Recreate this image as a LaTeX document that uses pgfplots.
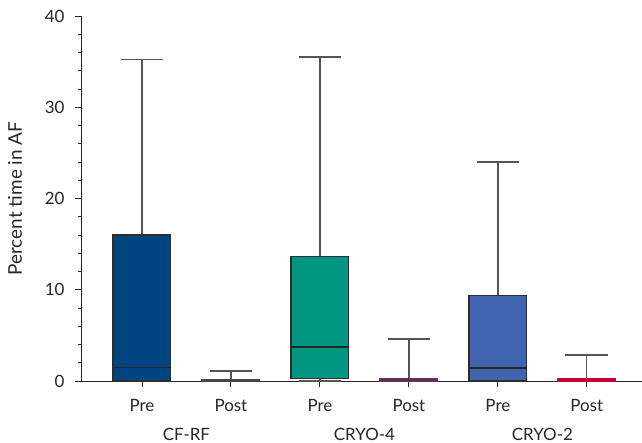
\documentclass[border=0pt]{standalone}
\usepackage{fontspec}
\setmainfont{Lato}
\usepackage{pgfplots}
\pgfplotsset{compat=1.18}
\usepgfplotslibrary{statistics}
\definecolor{cfrf}{RGB}{0,69,130}
\definecolor{cryofour}{RGB}{0,150,130}
\definecolor{cryotwo}{RGB}{65,100,175}
\definecolor{postone}{RGB}{70,70,70}
\definecolor{posttwo}{RGB}{90,50,90}
\definecolor{postthree}{RGB}{200,0,60}
\definecolor{wh}{RGB}{85,85,85}
\definecolor{edge}{RGB}{45,45,45}
\begin{document}
\begin{tikzpicture}
\begin{axis}[
  at={(0,0)}, anchor=south west,
  scale only axis, width=561bp, height=365bp,
  xmin=-0.685, xmax=5.62, ymin=0, ymax=40,
  axis lines=left, axis line style={-, line width=0.9pt, black!85},
  xtick={0,1,2,3,4,5},
  xticklabels={Pre,Post,Pre,Post,Pre,Post},
  ytick={0,10,20,30,40}, minor y tick num=4,
  tick align=outside, major tick length=6bp, minor tick length=3bp,
  tick style={line width=0.9pt, black!85},
  font=\fontsize{17}{20}\selectfont,
  ticklabel style={font=\fontsize{17}{20}\selectfont, text=black!85},
  yticklabel style={xshift=-7bp},
  xticklabel style={yshift=-9bp},
  /pgf/number format/assume math mode=true,
  ylabel={Percent time in AF},
  every axis y label/.style={at={(axis description cs:0,0.5)}, rotate=90, anchor=center, yshift=66bp, font=\fontsize{19}{22}\selectfont, text=black!85},
  clip=false,
  boxplot/draw direction=y,
  boxplot/box extend=0.65,
  boxplot/whisker extend=0.48,
  boxplot/every whisker/.style={draw=wh, line width=1.3pt},
  boxplot/every box/.style={draw=edge, line width=1.2pt},
  boxplot/every median/.style={draw=black!85, line width=1.5pt},
]
\addplot[fill=cfrf, boxplot prepared={draw position=0, lower whisker=0, lower quartile=0, median=1.5, upper quartile=16, upper whisker=35.2}] coordinates {};
\addplot[fill=postone, boxplot prepared={draw position=1, lower whisker=0, lower quartile=0, median=0.05, upper quartile=0.1, upper whisker=1.1}, boxplot/every box/.style={draw=postone, line width=1.2pt}, boxplot/every median/.style={draw=postone, line width=1pt}] coordinates {};
\addplot[fill=cryofour, boxplot prepared={draw position=2, lower whisker=0, lower quartile=0.3, median=3.7, upper quartile=13.6, upper whisker=35.5}] coordinates {};
\addplot[fill=posttwo, boxplot prepared={draw position=3, lower whisker=0, lower quartile=0, median=0.1, upper quartile=0.25, upper whisker=4.6}, boxplot/every box/.style={draw=posttwo, line width=1.2pt}, boxplot/every median/.style={draw=posttwo, line width=1pt}] coordinates {};
\addplot[fill=cryotwo, boxplot prepared={draw position=4, lower whisker=0, lower quartile=0, median=1.4, upper quartile=9.4, upper whisker=24.0}] coordinates {};
\addplot[fill=postthree, boxplot prepared={draw position=5, lower whisker=0, lower quartile=0, median=0.1, upper quartile=0.3, upper whisker=2.85}, boxplot/every box/.style={draw=postthree, line width=1.2pt}, boxplot/every median/.style={draw=postthree, line width=1pt}] coordinates {};
\node[anchor=base, text=black!85] at (axis cs:0.5,0) [yshift=-59bp] {CF-RF};
\node[anchor=base, text=black!85] at (axis cs:2.5,0) [yshift=-59bp] {CRYO-4};
\node[anchor=base, text=black!85] at (axis cs:4.5,0) [yshift=-59bp] {CRYO-2};
\end{axis}
\pgfresetboundingbox
\path[use as bounding box] (-81bp,-62bp) rectangle (561bp,381bp);
\end{tikzpicture}
\end{document}
